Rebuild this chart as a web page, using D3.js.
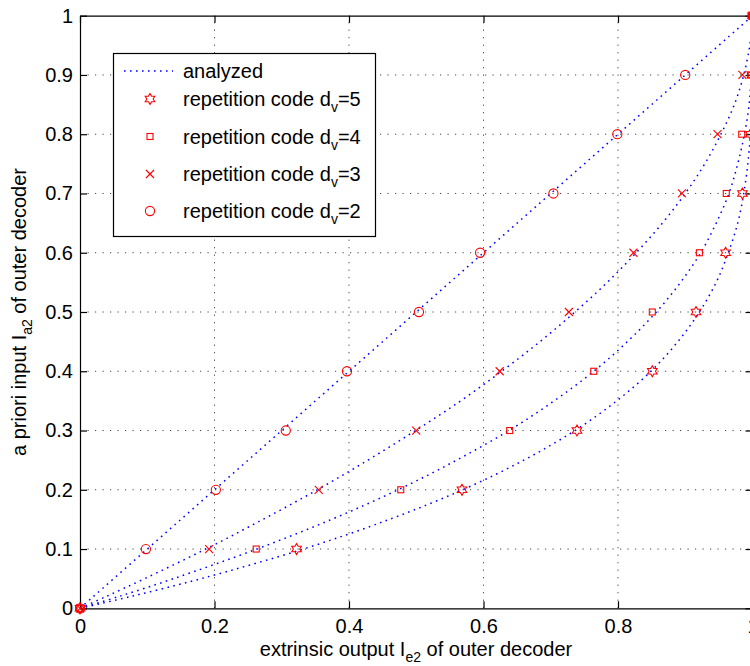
<!DOCTYPE html>
<html><head><meta charset="utf-8">
<script src="https://cdn.jsdelivr.net/npm/d3@7"></script>
<style>
body{margin:0;background:#fff}
svg{display:block}
text{font-family:"Liberation Sans",Arial,Helvetica,sans-serif;fill:#000}
</style>
</head><body>
<svg id="chart" width="750" height="666"></svg>
<script>
// ---------- data ----------
const xTicks = [0, 0.2, 0.4, 0.6, 0.8, 1];
const yTicks = [0, 0.1, 0.2, 0.3, 0.4, 0.5, 0.6, 0.7, 0.8, 0.9, 1];
const xTickLabels = ["0", "0.2", "0.4", "0.6", "0.8", "1"];
const yTickLabels = ["0", "0.1", "0.2", "0.3", "0.4", "0.5", "0.6", "0.7", "0.8", "0.9", "1"];

// analyzed curves: a priori input (y) vs extrinsic output (x)
const curveY = [0, 0.02, 0.05, 0.1, 0.15, 0.2, 0.25, 0.3, 0.35, 0.4, 0.45, 0.5, 0.55, 0.6, 0.65, 0.7, 0.75, 0.8, 0.85, 0.9, 0.95, 0.98, 1];
const analyzedDv2 = [0, 0.02, 0.05, 0.1, 0.15, 0.2, 0.25, 0.3, 0.35, 0.4, 0.45, 0.5, 0.55, 0.6, 0.65, 0.7, 0.75, 0.8, 0.85, 0.9, 0.95, 0.98, 1];
const analyzedDv3 = [0, 0.039, 0.096, 0.187, 0.272, 0.353, 0.428, 0.499, 0.566, 0.627, 0.684, 0.736, 0.784, 0.827, 0.866, 0.900, 0.929, 0.953, 0.973, 0.987, 0.996, 0.999, 1];
const analyzedDv4 = [0, 0.058, 0.139, 0.263, 0.374, 0.473, 0.560, 0.638, 0.705, 0.764, 0.814, 0.857, 0.893, 0.923, 0.946, 0.965, 0.978, 0.988, 0.995, 0.998, 0.9997, 1, 1];
const analyzedDv5 = [0, 0.076, 0.180, 0.332, 0.460, 0.569, 0.660, 0.736, 0.798, 0.849, 0.889, 0.921, 0.946, 0.964, 0.978, 0.987, 0.993, 0.997, 0.999, 0.9997, 1, 1, 1];

// simulated repetition-code points
const simY = [0, 0.1, 0.2, 0.3, 0.4, 0.5, 0.6, 0.7, 0.8, 0.9, 1];
const simDv5 = [0, 0.322, 0.568, 0.739, 0.851, 0.916, 0.960, 0.985, 0.997, 0.9995, 1];
const simDv4 = [0, 0.262, 0.477, 0.639, 0.764, 0.851, 0.921, 0.961, 0.984, 0.997, 1];
const simDv3 = [0, 0.192, 0.355, 0.500, 0.624, 0.727, 0.823, 0.895, 0.948, 0.985, 1];
const simDv2 = [0, 0.098, 0.202, 0.306, 0.397, 0.504, 0.595, 0.704, 0.799, 0.900, 1];

const legendLabels = ["analyzed", "5", "4", "3", "2"];

// ---------- layout ----------
const svg = d3.select("#chart");
const L = 80, R = 752.5, T = 15.7, B = 608.3;
const x = d3.scaleLinear().domain([0, 1]).range([L, R]);
const y = d3.scaleLinear().domain([0, 1]).range([B, T]);
const FS = 20, SUB = 14;
const BLUE = "#0000ff", RED = "#ff0000";

// grid
const grid = svg.append("g");
grid.selectAll("line.gx").data(xTicks.slice(1, -1)).enter().append("line")
  .attr("x1", d => x(d)).attr("x2", d => x(d)).attr("y1", B).attr("y2", T)
  .attr("stroke", "#444").attr("stroke-width", 1).attr("stroke-dasharray", "1.2,6.3");
grid.selectAll("line.gy").data(yTicks.slice(1, -1)).enter().append("line")
  .attr("y1", d => y(d)).attr("y2", d => y(d)).attr("x1", L).attr("x2", R)
  .attr("stroke", "#444").attr("stroke-width", 1).attr("stroke-dasharray", "1.2,6.3");

// axes with inward ticks on all four sides
const TL = 7;
const axB = d3.axisBottom(x).tickValues(xTicks).tickFormat((d, i) => xTickLabels[i]).tickSizeInner(-TL).tickSizeOuter(0).tickPadding(11);
const axT = d3.axisTop(x).tickValues(xTicks).tickFormat("").tickSizeInner(-TL).tickSizeOuter(0);
const axL = d3.axisLeft(y).tickValues(yTicks).tickFormat((d, i) => yTickLabels[i]).tickSizeInner(-TL).tickSizeOuter(0).tickPadding(7);
const axR = d3.axisRight(y).tickValues(yTicks).tickFormat("").tickSizeInner(-TL).tickSizeOuter(0);
function styleAxis(g) {
  g.select(".domain").attr("stroke", "#000").attr("stroke-width", 1.2);
  g.selectAll(".tick line").attr("stroke", "#000").attr("stroke-width", 1.2);
  g.selectAll(".tick text").attr("font-size", FS).attr("font-family", "Liberation Sans, Arial, sans-serif").attr("fill", "#000");
}
svg.append("g").attr("transform", `translate(0,${B})`).call(axB).call(styleAxis);
svg.append("g").attr("transform", `translate(0,${T})`).call(axT).call(styleAxis);
svg.append("g").attr("transform", `translate(${L},0)`).call(axL).call(styleAxis);
svg.append("g").attr("transform", `translate(${R},0)`).call(axR).call(styleAxis);

// analyzed curves
const line = d3.line().x(d => x(d[0])).y(d => y(d[1])).curve(d3.curveCatmullRom.alpha(0.5));
[analyzedDv2, analyzedDv3, analyzedDv4, analyzedDv5].forEach(arr => {
  svg.append("path").datum(arr.map((v, i) => [v, curveY[i]])).attr("d", line)
    .attr("fill", "none").attr("stroke", BLUE).attr("stroke-width", 1.5).attr("stroke-dasharray", "1.6,4.4");
});

// markers
function hexagramPath(r) {
  const pts = [];
  for (let k = 0; k < 12; k++) {
    const a = (-90 + 30 * k) * Math.PI / 180;
    const rr = k % 2 === 0 ? r : r / Math.sqrt(3);
    pts.push([rr * Math.cos(a), rr * Math.sin(a)]);
  }
  return "M" + pts.map(p => p.join(",")).join("L") + "Z";
}
const markers = {
  hex: g => g.append("path").attr("d", hexagramPath(5.5)),
  square: g => g.append("rect").attr("x", -3).attr("y", -3).attr("width", 6).attr("height", 6),
  cross: g => g.append("path").attr("d", "M-4,-4L4,4M-4,4L4,-4"),
  circle: g => g.append("circle").attr("r", 4.6)
};
function drawMarkers(arr, type) {
  const gs = svg.append("g").selectAll("g").data(arr.map((v, i) => [v, simY[i]])).enter().append("g")
    .attr("transform", d => `translate(${x(d[0])},${y(d[1])})`)
    .attr("fill", "none").attr("stroke", RED).attr("stroke-width", 1.1);
  gs.each(function(){ markers[type](d3.select(this)); });
}
drawMarkers(simDv5, "hex");
drawMarkers(simDv4, "square");
drawMarkers(simDv3, "cross");
drawMarkers(simDv2, "circle");

// legend
const lg = svg.append("g");
lg.append("rect").attr("x", 113.5).attr("y", 53.5).attr("width", 262).attr("height", 183)
  .attr("fill", "#fff").attr("stroke", "#000").attr("stroke-width", 1.2);
const rowY = [71, 99, 136.5, 174, 211];
lg.append("line").attr("x1", 124).attr("x2", 173).attr("y1", rowY[0]).attr("y2", rowY[0])
  .attr("stroke", BLUE).attr("stroke-width", 1.5).attr("stroke-dasharray", "1.6,4.4");
lg.append("text").attr("x", 183).attr("y", rowY[0] + 7).attr("font-size", FS).text(legendLabels[0]);
const types = ["hex", "square", "cross", "circle"];
for (let i = 1; i < 5; i++) {
  const g = lg.append("g").attr("transform", `translate(150,${rowY[i]})`)
    .attr("fill", "none").attr("stroke", RED).attr("stroke-width", 1.1);
  markers[types[i - 1]](g);
  const t = lg.append("text").attr("x", 183).attr("y", rowY[i] + 7).attr("font-size", FS);
  t.append("tspan").text("repetition code d");
  t.append("tspan").attr("font-size", SUB).attr("dy", 6).text("v");
  t.append("tspan").attr("font-size", FS).attr("dy", -6).text("=" + legendLabels[i]);
}

// axis labels
const xl = svg.append("text").attr("x", 416).attr("y", 656).attr("text-anchor", "middle").attr("font-size", FS);
xl.append("tspan").text("extrinsic output I");
xl.append("tspan").attr("font-size", SUB).attr("dy", 6).text("e2");
xl.append("tspan").attr("dy", -6).text(" of outer decoder");

const yl = svg.append("text").attr("transform", "translate(26,312) rotate(-90)").attr("text-anchor", "middle").attr("font-size", FS);
yl.append("tspan").text("a priori input I");
yl.append("tspan").attr("font-size", SUB).attr("dy", 6).text("a2");
yl.append("tspan").attr("dy", -6).text(" of outer decoder");
</script>
</body></html>
